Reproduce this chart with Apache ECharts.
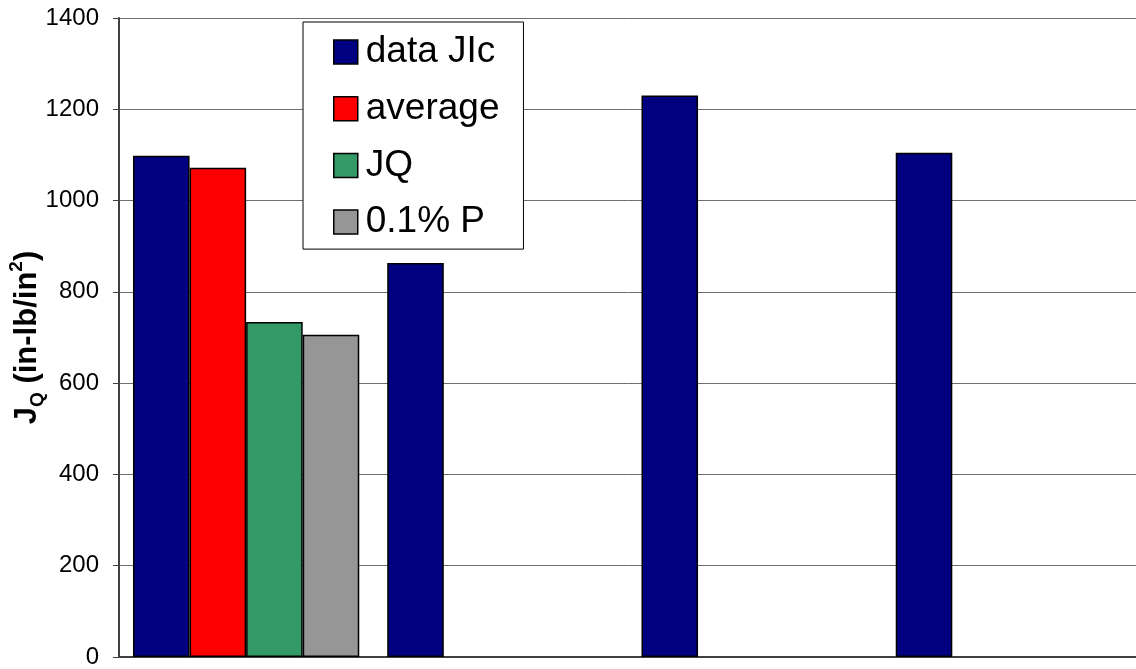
<!DOCTYPE html>
<html>
<head>
<meta charset="utf-8">
<script src="https://cdn.jsdelivr.net/npm/echarts@6/dist/echarts.min.js"></script>
<style>
  html, body { margin: 0; padding: 0; background: #ffffff; }
  #chart { width: 1136px; height: 669px; }
</style>
</head>
<body>
<div id="chart"></div>
<script>
// Specimen groups along the category axis
const categories = ['1', '2', '3', '4'];
// Series names shown in the legend
const seriesNames = ['data JIc', 'average', 'JQ', '0.1% P'];
// J values (in-lb/in^2); empty slots keep the grouped layout
const dataJIc = [1098, 863, 1230, 1105];
const averageJ = [1072, null, null, null];
const jqValues = [734, null, null, null];
const p01Values = [706, null, null, null];
// Value axis range
const yMin = 0;
const yMax = 1400;
const yStep = 200;

const colors = ['#000080', '#ff0000', '#339966', '#969696'];
const valueSets = [dataJIc, averageJ, jqValues, p01Values];

const chart = echarts.init(document.getElementById('chart'), null, { renderer: 'canvas' });

const series = seriesNames.map((name, i) => ({
  name: name,
  type: 'bar',
  data: valueSets[i].map(v => (v === null ? '-' : v)),
  barGap: '0%',
  barCategoryGap: '11%',
  itemStyle: { color: colors[i], borderColor: '#000000', borderWidth: 1.5 },
  emphasis: { disabled: true },
  animation: false
}));

chart.setOption({
  animation: false,
  textStyle: { fontFamily: 'Liberation Sans, Arial, sans-serif' },
  grid: { left: 119, right: 0, top: 18, bottom: 12, containLabel: false, outerBoundsMode: 'none' },
  legend: {
    data: seriesNames,
    orient: 'vertical',
    left: 303,
    top: 22,
    icon: 'rect',
    itemWidth: 24,
    itemHeight: 24,
    itemGap: 16.7,
    padding: [10, 24, 7, 30],
    backgroundColor: '#ffffff',
    borderColor: '#000000',
    borderWidth: 1,
    itemStyle: { borderColor: '#000000', borderWidth: 1.5 },
    textStyle: { fontSize: 37, color: '#000000', lineHeight: 40, padding: [0, 0, 0, 3] },
    selectedMode: false
  },
  xAxis: {
    type: 'category',
    data: categories,
    axisLine: { show: true, lineStyle: { color: '#404040', width: 2 } },
    axisTick: { show: false },
    axisLabel: { show: false },
    splitLine: { show: false }
  },
  yAxis: {
    type: 'value',
    min: yMin,
    max: yMax,
    interval: yStep,
    name: '{j|J}{q|Q}{b| (in-lb/in}{s|2}{b|)}',
    nameLocation: 'middle',
    nameRotate: 90,
    nameGap: 72,
    nameMoveOverlap: false,
    nameTextStyle: {
      rich: {
        j: { fontSize: 31, fontWeight: 'bold', color: '#000', lineHeight: 40, verticalAlign: 'middle' },
        b: { fontSize: 31, fontWeight: 'bold', color: '#000', lineHeight: 40, verticalAlign: 'middle' },
        q: { fontSize: 19, fontWeight: 'bold', color: '#000', lineHeight: 40, verticalAlign: 'bottom' },
        s: { fontSize: 19, fontWeight: 'bold', color: '#000', lineHeight: 40, verticalAlign: 'top' }
      }
    },
    axisLine: { show: true, lineStyle: { color: '#404040', width: 2 } },
    axisTick: { show: true, inside: false, length: 6, lineStyle: { color: '#404040', width: 1 } },
    axisLabel: { fontSize: 24, color: '#000000', margin: 20, formatter: v => String(v) },
    splitLine: { show: true, lineStyle: { color: '#6e6e6e', width: 1 } }
  },
  series: series
});
</script>
</body>
</html>
